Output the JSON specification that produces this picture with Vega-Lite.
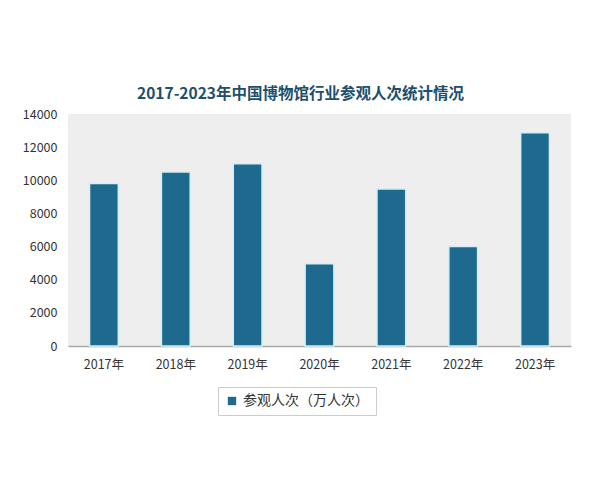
{
  "$schema": "https://vega.github.io/schema/vega-lite/v6.json",
  "width": 503,
  "height": 232,
  "autosize": {"type": "none"},
  "padding": {"left": 68, "top": 114, "right": 29, "bottom": 134},
  "background": "#ffffff",
  "title": {
    "text": "2017-2023年中国博物馆行业参观人次统计情况",
    "font": "Noto Sans CJK SC",
    "fontSize": 15.5,
    "fontWeight": "bold",
    "color": "#1d4f6c",
    "anchor": "middle",
    "dx": -19,
    "offset": 6
  },
  "config": {
    "view": {"fill": "#eeeeee", "stroke": null},
    "font": "Noto Sans CJK SC"
  },
  "data": {
    "values": [
      {"year": "2017年", "visits": 9800},
      {"year": "2018年", "visits": 10500},
      {"year": "2019年", "visits": 11000},
      {"year": "2020年", "visits": 4970},
      {"year": "2021年", "visits": 9480},
      {"year": "2022年", "visits": 6000},
      {"year": "2023年", "visits": 12870}
    ]
  },
  "mark": {"type": "bar", "stroke": "#d4eef4", "strokeWidth": 1.5},
  "encoding": {
    "x": {
      "field": "year",
      "type": "nominal",
      "sort": null,
      "scale": {"paddingInner": 0.6, "paddingOuter": 0.3},
      "axis": {
        "title": null,
        "labelAngle": 0,
        "labelFont": "Noto Sans CJK SC",
        "labelFontSize": 12.5,
        "labelColor": "#333333",
        "labelPadding": 12,
        "ticks": false,
        "domainColor": "#a8a8a8",
        "domainWidth": 1.5
      }
    },
    "y": {
      "field": "visits",
      "type": "quantitative",
      "scale": {"domain": [0, 14000]},
      "axis": {
        "title": null,
        "format": "d",
        "values": [0, 2000, 4000, 6000, 8000, 10000, 12000, 14000],
        "grid": false,
        "domain": false,
        "ticks": false,
        "labelFont": "Noto Sans CJK SC",
        "labelFontSize": 12.5,
        "labelColor": "#333333",
        "labelPadding": 11
      }
    },
    "color": {
      "datum": "参观人次（万人次）",
      "type": "nominal",
      "scale": {"range": ["#1e6a8e"]},
      "legend": {
        "title": null,
        "orient": "none",
        "legendX": 150,
        "legendY": 273,
        "direction": "horizontal",
        "symbolType": "square",
        "symbolSize": 70,
        "symbolStrokeWidth": 0,
        "labelFont": "Noto Sans CJK SC",
        "labelFontSize": 14,
        "labelColor": "#333333",
        "padding": 7,
        "strokeColor": "#cccccc",
        "fillColor": "#ffffff"
      }
    }
  }
}
